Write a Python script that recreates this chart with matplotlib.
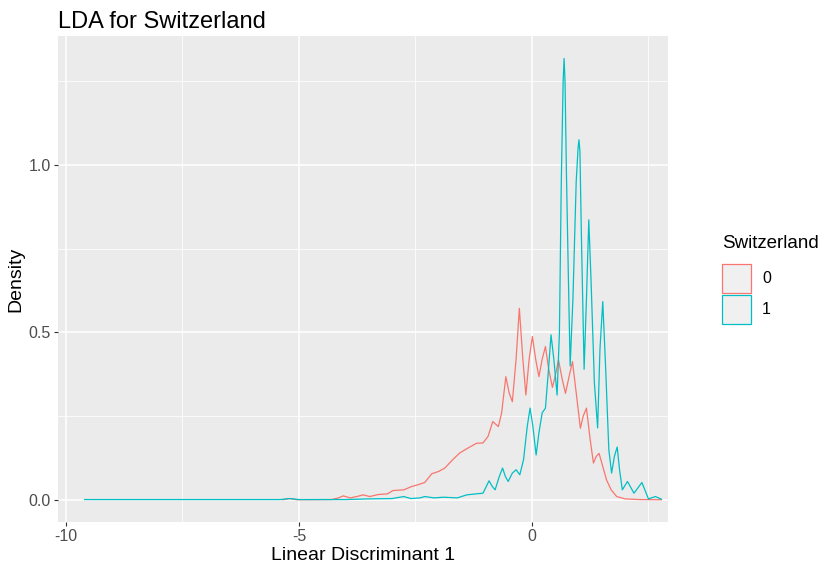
import matplotlib.pyplot as plt
from matplotlib.patches import Rectangle
from matplotlib.ticker import MultipleLocator

# density estimates, group 0 (not Switzerland)
x_0 = [-5.35, -5.2, -5.05, -4.3, -4.15, -4.05, -3.9, -3.76, -3.62, -3.48,
       -3.3, -3.1, -2.98, -2.75, -2.58, -2.45, -2.3, -2.15, -2.0, -1.87,
       -1.70, -1.55, -1.37, -1.19, -1.05, -0.94, -0.84, -0.77, -0.72, -0.65,
       -0.56, -0.49, -0.42, -0.34, -0.27, -0.20, -0.13, -0.06, 0.01, 0.08,
       0.15, 0.22, 0.29, 0.36, 0.44, 0.50, 0.57, 0.65, 0.72, 0.80,
       0.87, 0.95, 1.04, 1.10, 1.17, 1.25, 1.32, 1.38, 1.44, 1.52,
       1.60, 1.70, 1.82, 2.0, 2.3, 2.78]
dens_0 = [0.0005, 0.004, 0.0005, 0.001, 0.006, 0.012, 0.006, 0.010, 0.015, 0.010,
          0.016, 0.018, 0.028, 0.030, 0.040, 0.045, 0.052, 0.078, 0.085, 0.095,
          0.120, 0.140, 0.155, 0.169, 0.170, 0.190, 0.234, 0.225, 0.219, 0.260,
          0.368, 0.320, 0.293, 0.420, 0.572, 0.430, 0.313, 0.420, 0.488, 0.420,
          0.368, 0.420, 0.458, 0.390, 0.336, 0.370, 0.418, 0.360, 0.318, 0.370,
          0.413, 0.320, 0.214, 0.250, 0.274, 0.180, 0.110, 0.130, 0.139, 0.100,
          0.060, 0.030, 0.010, 0.003, 0.001, 0.0005]

# group 1 (Switzerland)
x_1 = [-9.6, -8.0, -6.0, -5.4, -5.2, -5.0, -4.0, -3.5, -3.0, -2.75,
       -2.6, -2.4, -2.3, -2.1, -1.9, -1.6, -1.4, -1.2, -1.05, -0.92,
       -0.85, -0.79, -0.70, -0.63, -0.57, -0.51, -0.42, -0.34, -0.26, -0.18,
       -0.10, -0.04, 0.02, 0.09, 0.15, 0.22, 0.29, 0.35, 0.41, 0.47,
       0.54, 0.59, 0.63, 0.67, 0.69, 0.71, 0.74, 0.78, 0.82, 0.88,
       0.95, 0.99, 1.01, 1.03, 1.06, 1.12, 1.17, 1.22, 1.27, 1.34,
       1.41, 1.46, 1.52, 1.58, 1.65, 1.71, 1.77, 1.83, 1.88, 1.94,
       2.05, 2.19, 2.36, 2.5, 2.65, 2.78]
dens_1 = [0.001, 0.001, 0.001, 0.001, 0.004, 0.001, 0.001, 0.003, 0.004, 0.010,
          0.004, 0.006, 0.010, 0.006, 0.008, 0.006, 0.015, 0.018, 0.020, 0.057,
          0.040, 0.030, 0.070, 0.095, 0.070, 0.055, 0.080, 0.090, 0.075, 0.120,
          0.220, 0.274, 0.220, 0.134, 0.200, 0.260, 0.274, 0.380, 0.493, 0.420,
          0.313, 0.500, 0.950, 1.250, 1.318, 1.250, 0.980, 0.680, 0.400, 0.600,
          0.950, 1.050, 1.075, 1.040, 0.800, 0.390, 0.600, 0.836, 0.650, 0.350,
          0.215, 0.450, 0.592, 0.400, 0.150, 0.080, 0.130, 0.158, 0.090, 0.030,
          0.055, 0.020, 0.052, 0.003, 0.010, 0.002]

groups = ['0', '1']
colors = ['#F8766D', '#00BFC4']

plt.rcParams['font.family'] = ['Liberation Sans', 'DejaVu Sans']

fig = plt.figure(figsize=(8.2, 5.73), dpi=100)
ax = fig.add_axes([58 / 820, 1 - 522 / 573, 610 / 820, 486 / 573])
ax.set_facecolor('#EBEBEB')

ax.plot(x_0, dens_0, color=colors[0], linewidth=0.9)
ax.plot(x_1, dens_1, color=colors[1], linewidth=0.9)

ax.set_xlim(-10.17, 2.92)
ax.set_ylim(-0.066, 1.385)
ax.xaxis.set_minor_locator(MultipleLocator(2.5))
ax.yaxis.set_minor_locator(MultipleLocator(0.25))
ax.set_yticks([0, 0.5, 1.0])
ax.set_yticklabels(['0.0', '0.5', '1.0'])
ax.set_xticks([-10, -5, 0])
ax.set_xticklabels(['-10', '-5', '0'])

ax.grid(which='major', color='white', linewidth=1.1)
ax.grid(which='minor', color='white', linewidth=0.55)
ax.set_axisbelow(True)
for s in ax.spines.values():
    s.set_visible(False)
ax.tick_params(which='major', length=3, width=0.8, color='#333333',
               labelsize=11.5, labelcolor='#4D4D4D', pad=2)
ax.tick_params(which='minor', length=0)

ax.set_xlabel('Linear Discriminant 1', fontsize=14, labelpad=2)
ax.set_ylabel('Density', fontsize=14, labelpad=3)
ax.set_title('LDA for Switzerland', fontsize=17, loc='left', x=0, pad=6)

# legend drawn by hand, ggplot style
fig.text(722 / 820, 1 - 244 / 573, 'Switzerland', fontsize=13.5, va='center', ha='left')
for i, (g, c) in enumerate(zip(groups, colors)):
    top = 264 + i * 31
    fig.add_artist(Rectangle((722 / 820, 1 - (top + 29) / 573), 29 / 820, 29 / 573,
                             transform=fig.transFigure, facecolor='#F0F0F0',
                             edgecolor=c, linewidth=0.9))
    fig.text(762 / 820, 1 - (top + 14.5) / 573, g, fontsize=11.5, va='center', ha='left')

fig.savefig('out.png', dpi=100)
